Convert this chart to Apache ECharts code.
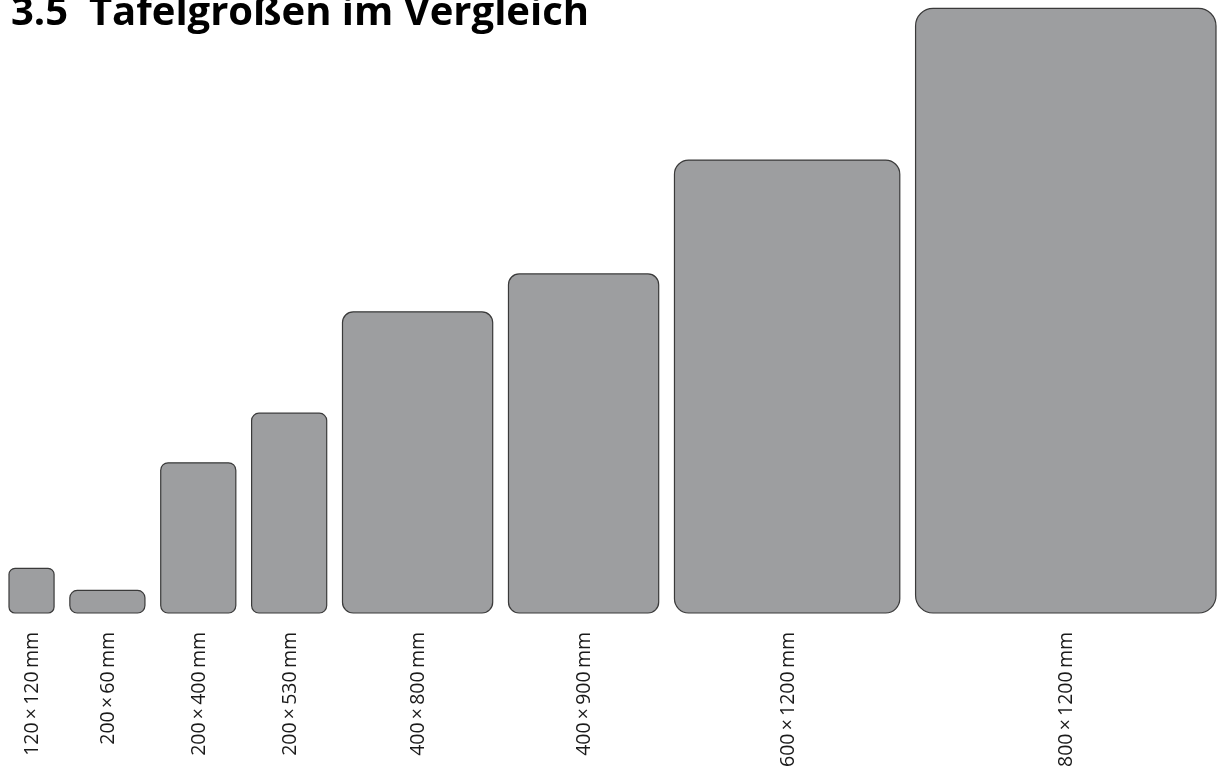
<!DOCTYPE html>
<html>
<head>
<meta charset="utf-8">
<script src="https://cdn.jsdelivr.net/npm/echarts@6/dist/echarts.min.js"></script>
<style>
html,body{margin:0;padding:0;background:#fff;}
#chart{width:1217px;height:771px;}
</style>
</head>
<body>
<div id="chart"></div>
<script>
// Data (mm)
var titleText = '3.5  Tafelgroßen im Vergleich';
var labels = ['120\u2009×\u2009120\u2009mm','200\u2009×\u200960\u2009mm','200\u2009×\u2009400\u2009mm','200\u2009×\u2009530\u2009mm','400\u2009×\u2009800\u2009mm','400\u2009×\u2009900\u2009mm','600\u2009×\u20091200\u2009mm','800\u2009×\u20091200\u2009mm'];
var widths = [120, 200, 200, 200, 400, 400, 600, 800];
var heights = [119, 60, 400, 532, 802, 903, 1206, 1610]; // drawn heights
var gapMM = 42;

// layout
var gridLeft = 9, gridRight = 1, baseY = 613;
var starts = [], acc = 0;
for (var i = 0; i < widths.length; i++) { starts.push(acc); acc += widths[i] + (i < widths.length - 1 ? gapMM : 0); }
var xMax = acc;
var scale = (1217 - gridLeft - gridRight) / xMax;
var yMax = Math.max.apply(null, heights);
var gridTop = baseY - yMax * scale;

var data = widths.map(function (w, i) { return [starts[i], w, heights[i], i]; });

var chart = echarts.init(document.getElementById('chart'));
chart.setOption({
  animation: false,
  title: {
    text: titleText, left: 6, top: -11,
    textStyle: { fontFamily: 'Open Sans', fontWeight: 'bold', fontSize: 40, color: '#000' }
  },
  grid: { left: gridLeft, right: gridRight, top: gridTop, bottom: 771 - baseY },
  xAxis: { type: 'value', min: 0, max: xMax, show: false },
  yAxis: { type: 'value', min: 0, max: yMax, show: false },
  series: [{
    type: 'custom',
    data: data,
    clip: false,
    renderItem: function (params, api) {
      var x0 = api.value(0), w = api.value(1), h = api.value(2), idx = api.value(3);
      var p0 = api.coord([x0, h]);
      var p1 = api.coord([x0 + w, 0]);
      var pw = p1[0] - p0[0], ph = p1[1] - p0[1];
      var r = Math.min(4 + pw * 0.045, ph / 2.5);
      return {
        type: 'group',
        children: [{
          type: 'rect',
          shape: { x: p0[0], y: p0[1], width: pw, height: ph, r: r },
          style: { fill: '#9d9ea0', stroke: '#3a3a3a', lineWidth: 1.2 }
        }, {
          type: 'text',
          x: (p0[0] + p1[0]) / 2 + 1, y: p1[1] + 19,
          rotation: Math.PI / 2,
          style: {
            text: labels[idx], align: 'right', verticalAlign: 'middle',
            fontFamily: 'Open Sans', fontSize: 19.5, fill: '#1a1a1a'
          }
        }]
      };
    }
  }]
});
</script>
</body>
</html>
